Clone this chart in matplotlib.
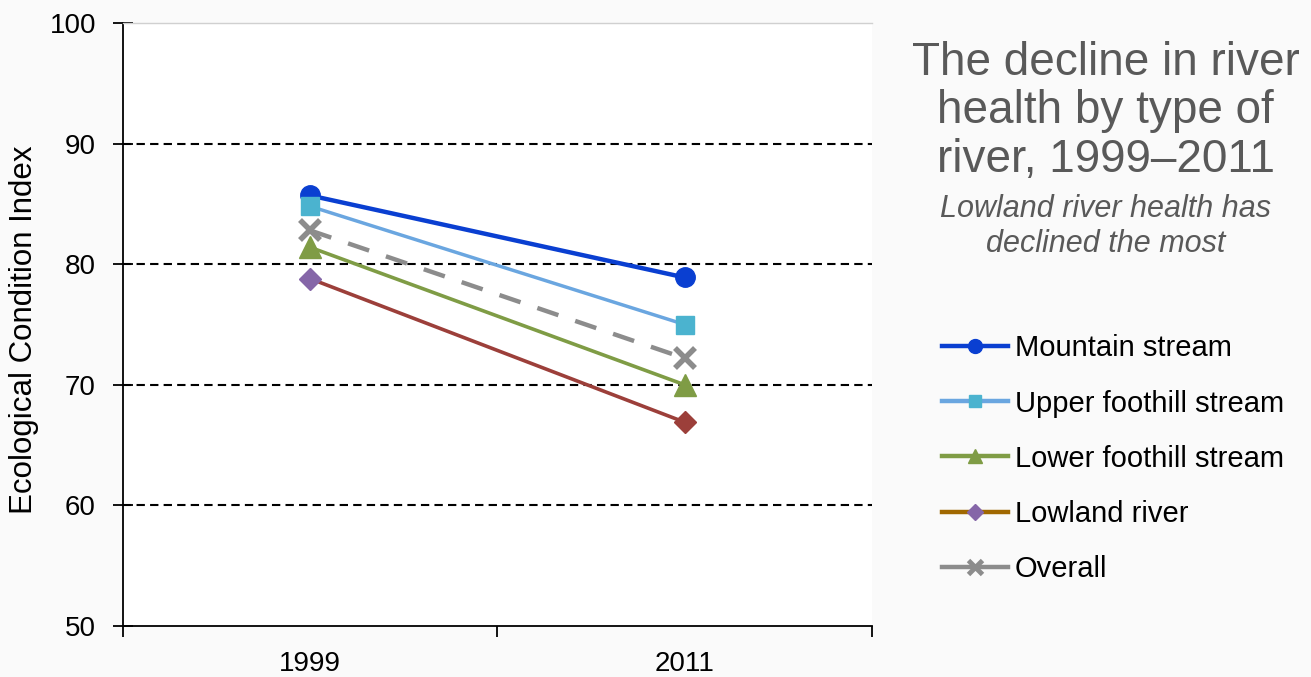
import matplotlib.pyplot as plt
from matplotlib.lines import Line2D

plt.rcParams['font.family'] = ['Liberation Sans', 'DejaVu Sans']

# Ecological Condition Index per river type
years = ['1999', '2011']
mountain = [85.7, 78.9]
upper_foothill = [84.8, 75.0]
lower_foothill = [81.4, 70.0]
lowland = [78.8, 66.9]
overall = [82.8, 72.2]

labels = ['Mountain stream', 'Upper foothill stream', 'Lower foothill stream',
          'Lowland river', 'Overall']

x = [0.5, 1.5]

fig = plt.figure(figsize=(13.11, 6.77), dpi=100, facecolor='#fafafa')
ax = fig.add_axes([0.0938, 0.0753, 0.5713, 0.8907])
ax.set_facecolor('white')

# lijnen
ax.plot(x, mountain, color='#0a3fd1', lw=3.2, marker='o', ms=14,
        mfc='#0a3fd1', mec='#0a3fd1', zorder=3)
ax.plot(x, upper_foothill, color='#6aa6e0', lw=2.5, marker='s', ms=13,
        mfc='#4bb3cf', mec='#4bb3cf', zorder=4)
ax.plot(x, overall, color='#8c8c8c', lw=3.2, ls=(0, (5, 4)), marker='x',
        ms=15, mew=4, mec='#8c8c8c', zorder=5)
ax.plot(x, lower_foothill, color='#7f9c45', lw=2.6, marker='^', ms=16,
        mfc='#7f9c45', mec='#7f9c45', zorder=6)
ax.plot(x, lowland, color='#9c3f3a', lw=2.6, zorder=7)
# lowland heeft twee kleuren ruiten
ax.plot(x[0], lowland[0], marker='D', ms=11, color='#8566a8', zorder=8)
ax.plot(x[1], lowland[1], marker='D', ms=11, color='#9c3f3a', zorder=8)

ax.set_xlim(0, 2)
ax.set_ylim(50, 100)
ax.set_xticks([0, 1, 2])
ax.set_xticklabels([])
ax.set_xticks(x, minor=True)
ax.set_xticklabels(years, minor=True)
ax.tick_params(axis='x', which='minor', length=0, labelsize=20, pad=18)
ax.tick_params(axis='x', which='major', length=8, width=1.3, direction='out')
ax.set_yticks(range(50, 101, 10))
ax.tick_params(axis='y', length=14, width=1.3, direction='inout', labelsize=20, pad=12.5)

for y in [60, 70, 80, 90]:
    ax.axhline(y, color='black', ls=(0, (4, 2.5)), lw=1.5, zorder=1)

ax.spines['right'].set_visible(False)
ax.spines['top'].set_color('#d0d0d0')
ax.spines['top'].set_linewidth(1.0)
for s in ['left', 'bottom']:
    ax.spines[s].set_linewidth(1.3)

ax.set_ylabel('Ecological Condition Index', fontsize=22.5)
ax.yaxis.set_label_coords(-0.112, 0.491)

# legenda met eigen handles
handles = [
    Line2D([], [], color='#0a3fd1', lw=3.2, marker='o', ms=10),
    Line2D([], [], color='#6aa6e0', lw=3.2, marker='s', ms=9,
           mfc='#4bb3cf', mec='#4bb3cf'),
    Line2D([], [], color='#7f9c45', lw=3.2, marker='^', ms=10),
    Line2D([], [], color='#a06800', lw=3.2, marker='D', ms=8,
           mfc='#8566a8', mec='#8566a8'),
    Line2D([], [], color='#8c8c8c', lw=3.2, marker='x', ms=10, mew=3.5),
]
fig.legend(handles, labels, loc='upper left', bbox_to_anchor=(0.7185, 0.506),
           frameon=False, fontsize=21, handlelength=2.26, handletextpad=0.24,
           labelspacing=0.93, borderpad=0, borderaxespad=0)

fig.text(0.8435, 0.940, 'The decline in river\nhealth by type of\nriver, 1999\u20132011',
         ha='center', va='top', fontsize=33, color='#595959', linespacing=1.14)
fig.text(0.8435, 0.713, 'Lowland river health has\ndeclined the most',
         ha='center', va='top', fontsize=22, color='#595959', style='italic',
         linespacing=1.19)

plt.savefig('out.png', facecolor=fig.get_facecolor())
